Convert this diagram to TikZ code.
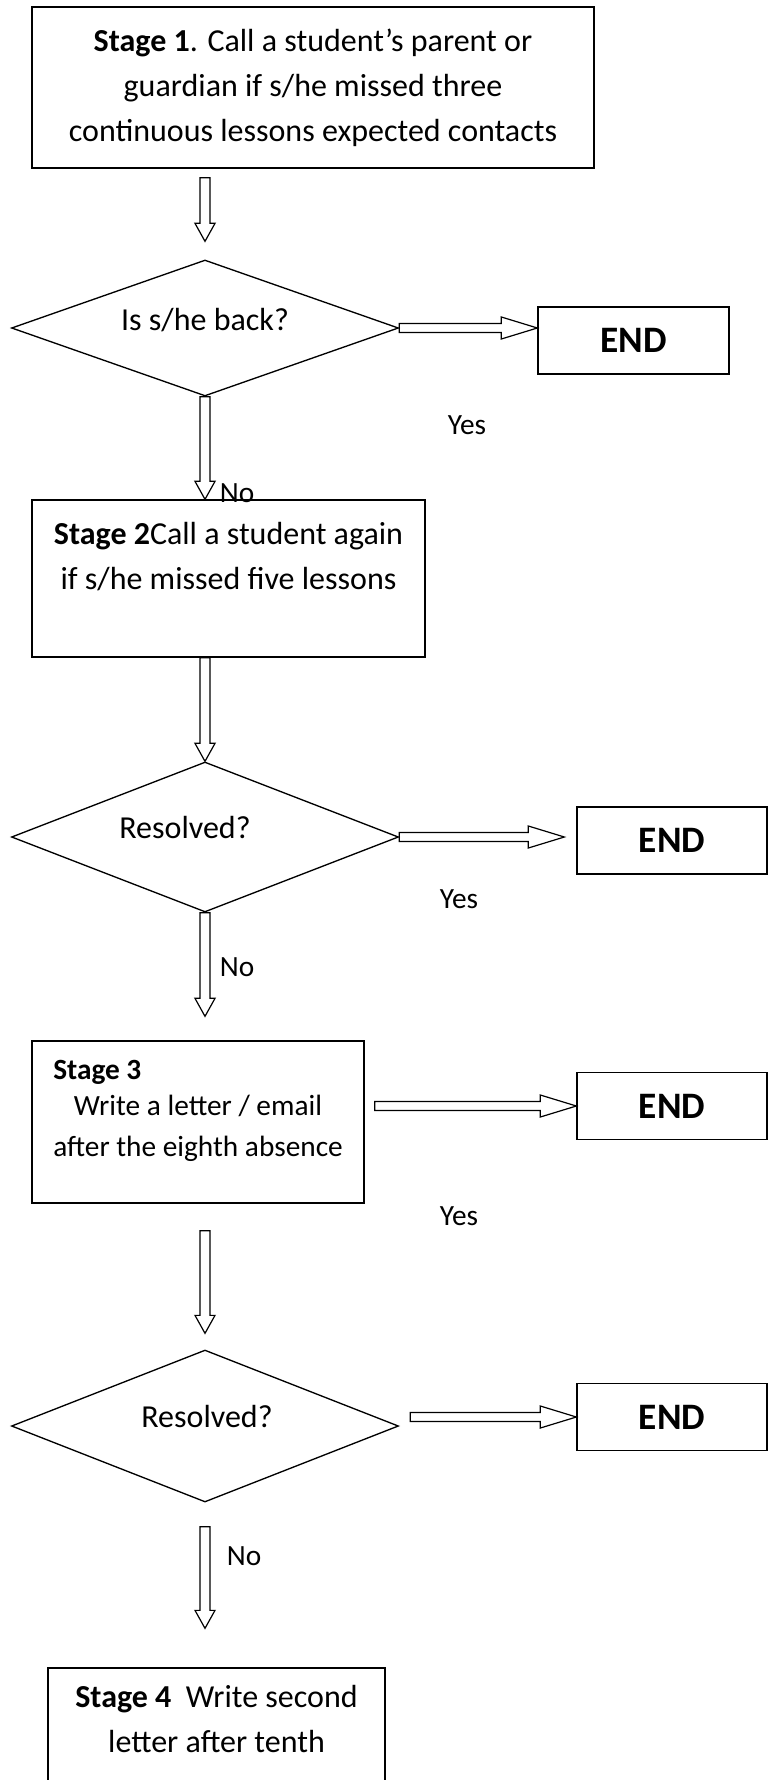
\documentclass[tikz,border=0pt]{standalone}
\usepackage{fontspec}
\setmainfont{Carlito}
\usetikzlibrary{shapes.geometric,calc}

\tikzset{
  box/.style={draw, line width=1pt, align=center, inner sep=0pt},
  decision/.style={draw, diamond, line width=1pt, minimum width=290.25pt, inner sep=0pt},
  endbox/.style={draw, line width=1pt, minimum width=142.5pt, minimum height=50.25pt,
    font=\fontsize{28}{34}\selectfont\bfseries},
  answer/.style={font=\fontsize{22}{26}\selectfont},
  from gap/.store in=\fromgap, to gap/.store in=\togap, from gap=0pt, to gap=0pt,
  downarr/.style={line width=0.9pt, to path={let \p1=(\tikztostart), \p2=(\tikztotarget) in
    (\x1-3.75pt,\y1-\fromgap) -- (\x1-3.75pt,\y2+\togap+13.5pt)
    -- (\x1-7.5pt,\y2+\togap+13.5pt) -- (\x1,\y2+\togap)
    -- (\x1+7.5pt,\y2+\togap+13.5pt) -- (\x1+3.75pt,\y2+\togap+13.5pt)
    -- (\x1+3.75pt,\y1-\fromgap) -- cycle}},
  rightarr/.style={line width=0.9pt, to path={let \p1=(\tikztostart), \p2=(\tikztotarget) in
    (\x1+\fromgap,\y1+3.4pt) -- (\x2-\togap-27pt,\y1+3.4pt)
    -- (\x2-\togap-27pt,\y1+8.25pt) -- (\x2-\togap,\y1)
    -- (\x2-\togap-27pt,\y1-8.25pt) -- (\x2-\togap-27pt,\y1-3.4pt)
    -- (\x1+\fromgap,\y1-3.4pt) -- cycle}}
}

\begin{document}
\begin{tikzpicture}[x=0.75pt, y=-0.75pt, font=\fontsize{24}{33.7}\selectfont]
    \useasboundingbox (0,0) rectangle (771,1780);
    \clip (0,0) rectangle (771,1780);
    \node[box, minimum width=421.5pt, minimum height=120.75pt] (s1) at (313,87.5)
        {\textbf{Stage 1}. Call a student’s parent or\\guardian if s/he missed three\\continuous lessons expected contacts};
    \node[decision, minimum height=102pt, label={[name=d1t, yshift=6pt]center:Is s/he back?}] (d1) at (205,328) {};
    \node[endbox, minimum width=143.25pt] (e1) at (633.5,340.5) {END};
    \node[box, minimum width=294.75pt, minimum height=117.75pt] (s2) at (228.5,578.5)
        {\textbf{Stage 2}Call a student again\\if s/he missed five lessons\\ \mbox{}};
    \node[decision, minimum height=112.5pt, label={[name=d2t, xshift=-15pt, yshift=7.5pt]center:Resolved?}] (d2) at (205,837) {};
    \node[endbox] (e2) at (672,840.5) {END};
    \node[box, minimum width=249pt, minimum height=121.5pt, font=\fontsize{22}{31}\selectfont] (s3) at (198,1122)
        {\begin{tabular}{@{}c@{}}\multicolumn{1}{@{}l@{}}{\textbf{Stage 3}}\\[-4pt]
         Write a letter / email\\after the eighth absence\\[-13pt] \mbox{}\end{tabular}};
    \node[endbox] (e3) at (672,1106) {END};
    \node[decision, minimum height=114pt, label={[name=d3t, xshift=1.5pt, yshift=7.5pt]center:Resolved?}] (d3) at (205,1426) {};
    \node[endbox] (e4) at (672,1417) {END};
    \node[box, minimum width=252.75pt, minimum height=109.5pt] (s4) at (216.5,1741)
        {\textbf{Stage 4}\ \ Write second\\letter after tenth\\ \mbox{}};
    \draw[downarr, from gap=6.75pt, to gap=13.5pt] (d1.north |- s1.south) to (d1.north);
    \draw[rightarr] (d1.east) to (d1.east -| e1.west);
    \draw[downarr] (d1.south) to (d1.south |- s2.north);
    \draw[downarr] (d2.north |- s2.south) to (d2.north);
    \draw[rightarr, to gap=9pt] (d2.east) to (d2.east -| e2.west);
    \draw[downarr, to gap=18pt] (d2.south) to (d2.south |- s3.north);
    \draw[rightarr, from gap=7.5pt] (e3.west -| s3.east) to (e3.west);
    \draw[downarr, from gap=20.25pt, to gap=12pt] (d3.north |- s3.south) to (d3.north);
    \draw[rightarr, from gap=8.25pt] (e4.west -| d3.east) to (e4.west);
    \draw[downarr, from gap=18pt, to gap=29.25pt] (d3.south) to (d3.south |- s4.north);
    \node[answer] (y1) at (467,425) {Yes};
    \node[answer] (n1) at (237,493) {No};
    \node[answer] (y2) at (459,899) {Yes};
    \node[answer] (n2) at (237,967) {No};
    \node[answer] (y3) at (459,1216) {Yes};
    \node[answer] (n3) at (244,1556) {No};
\end{tikzpicture}
\end{document}
